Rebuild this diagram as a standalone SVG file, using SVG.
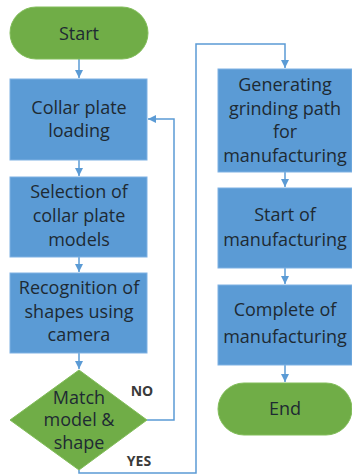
<svg xmlns="http://www.w3.org/2000/svg" width="352" height="476" viewBox="0 0 352 476">
<defs>
<marker id="arr" markerWidth="9" markerHeight="8" refX="8" refY="4" orient="auto" markerUnits="userSpaceOnUse">
<path d="M0,0 L8,4 L0,8 Z" fill="#5b9bd5"/>
</marker>
<style>
.box{fill:#5b9bd5;stroke:#7fb1e3;stroke-width:1}
.term{fill:#70ad47;stroke:#82bd5a;stroke-width:1}
.t{font-family:"Open Sans","Noto Sans",sans-serif;font-size:18px;fill:#1e2a33;text-anchor:middle}
.lbl{font-family:"Open Sans","Noto Sans",sans-serif;font-size:14px;font-weight:bold;fill:#3a3a3a;text-anchor:middle}
.c{fill:none;stroke:#5b9bd5;stroke-width:1.5}
</style>
</defs>
<rect width="352" height="476" fill="#ffffff"/>
<g id="connectors">
<path class="c" d="M79,59 V78" marker-end="url(#arr)"/>
<path class="c" d="M79,160 V176" marker-end="url(#arr)"/>
<path class="c" d="M79,257 V272" marker-end="url(#arr)"/>
<path class="c" d="M79,353 V369" marker-end="url(#arr)"/>
<path class="c" d="M147,420 H174 V119 H148" marker-end="url(#arr)"/>
<path class="c" d="M79,470 V473 H196 V44 H285 V68" marker-end="url(#arr)"/>
<path class="c" d="M285,172 V187" marker-end="url(#arr)"/>
<path class="c" d="M285,268 V284" marker-end="url(#arr)"/>
<path class="c" d="M285,365 V382" marker-end="url(#arr)"/>
<text class="lbl" x="142" y="396">NO</text>
<text class="lbl" x="139" y="466">YES</text>
</g>
<g id="start">
<rect class="term" x="10" y="7" width="138" height="52" rx="26"/>
<text class="t" x="79" y="40">Start</text>
</g>
<g id="loading">
<rect class="box" x="10" y="79" width="137" height="81"/>
<text class="t" x="79" y="114">Collar plate</text>
<text class="t" x="79" y="137">loading</text>
</g>
<g id="selection">
<rect class="box" x="10" y="177" width="137" height="80"/>
<text class="t" x="79" y="198">Selection of</text>
<text class="t" x="79" y="222">collar plate</text>
<text class="t" x="79" y="246">models</text>
</g>
<g id="recognition">
<rect class="box" x="10" y="273" width="137" height="80"/>
<text class="t" x="79" y="294">Recognition of</text>
<text class="t" x="79" y="318">shapes using</text>
<text class="t" x="79" y="341">camera</text>
</g>
<g id="match">
<polygon points="79,370 147,420 79,470 10,420" fill="#70ad47" stroke="#82bd5a" stroke-width="1"/>
<text class="t" x="79" y="404">Match</text>
<text class="t" x="79" y="426">model &amp;</text>
<text class="t" x="79" y="449">shape</text>
</g>
<g id="generating">
<rect class="box" x="218" y="69" width="134" height="103"/>
<text class="t" x="285" y="91">Generating</text>
<text class="t" x="285" y="115">grinding path</text>
<text class="t" x="285" y="138">for</text>
<text class="t" x="285" y="162">manufacturing</text>
</g>
<g id="start-mfg">
<rect class="box" x="218" y="188" width="134" height="80"/>
<text class="t" x="285" y="221">Start of</text>
<text class="t" x="285" y="246">manufacturing</text>
</g>
<g id="complete">
<rect class="box" x="218" y="285" width="134" height="80"/>
<text class="t" x="285" y="316">Complete of</text>
<text class="t" x="285" y="343">manufacturing</text>
</g>
<g id="end">
<rect class="term" x="218" y="383" width="134" height="52" rx="26"/>
<text class="t" x="285" y="415">End</text>
</g>
</svg>
